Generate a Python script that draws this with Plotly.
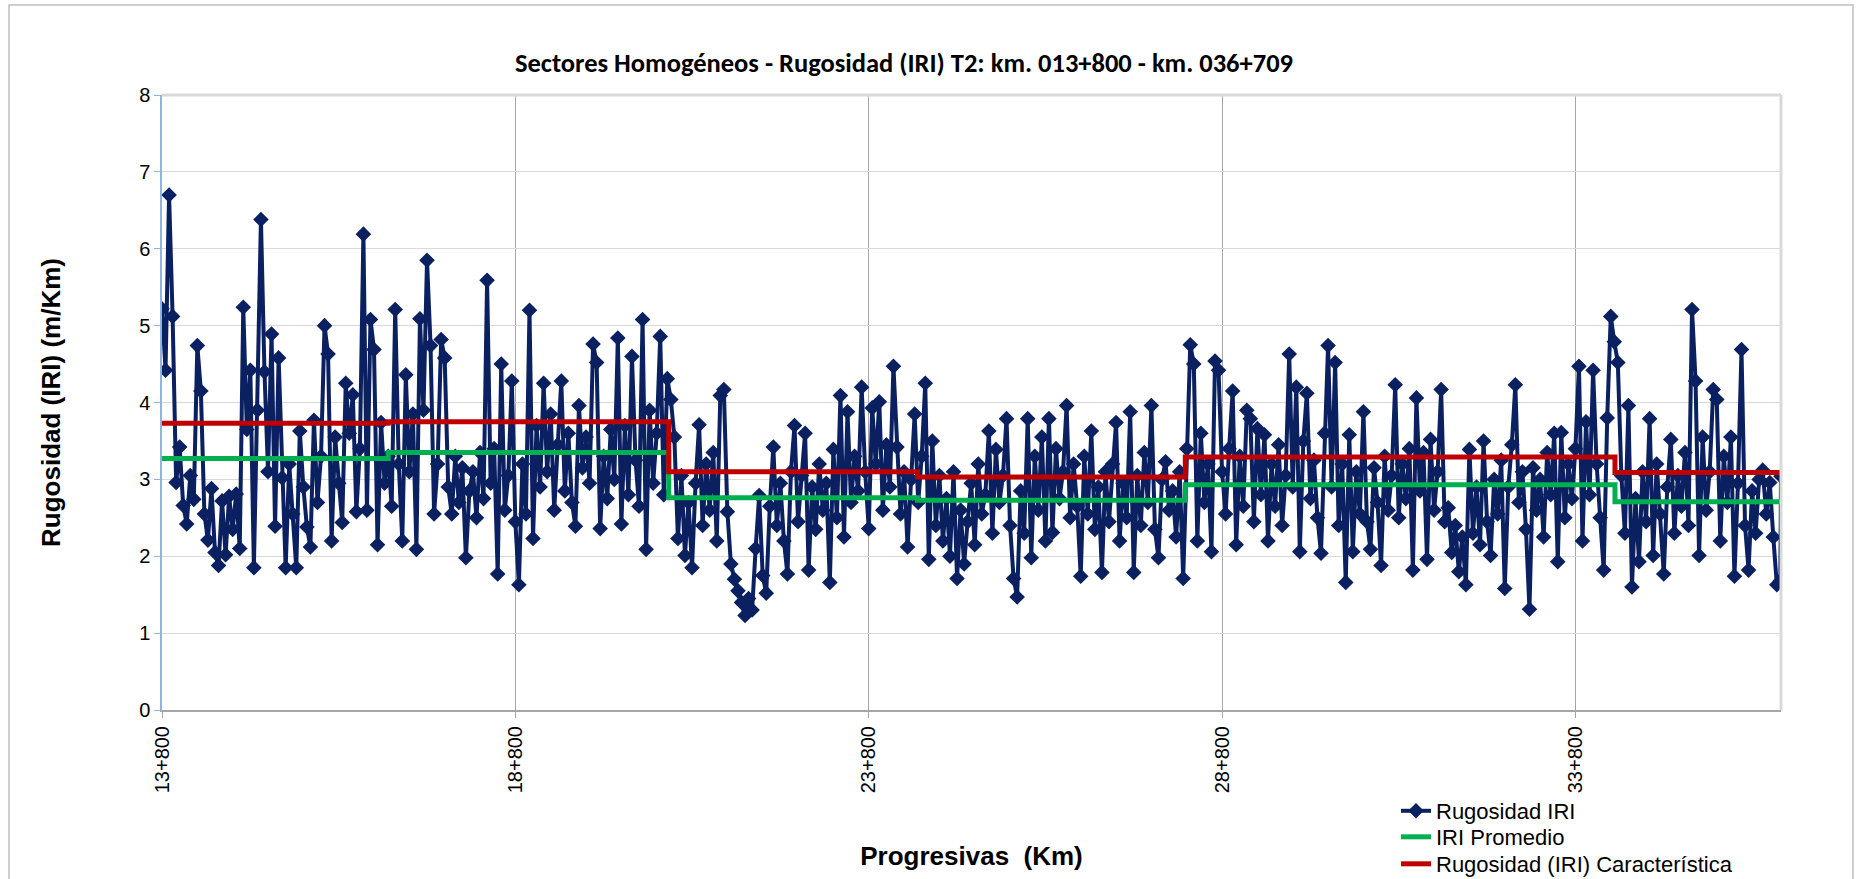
import plotly.graph_objects as go

# ---------------- DATA ----------------
# Station grid of the survey (km): readings every 50 m from 13+800, last reading at 36+709
station_start_km = 13.80
station_step_km = 0.05
station_end_km = 36.709

# IRI readings (m/km), one list per km of the road (20 readings each, 50 m apart)
iri_km13 = [5.22, 4.42, 6.70, 5.12, 2.96, 3.42, 2.66, 2.42, 3.05, 2.74, 4.74, 4.15, 2.55, 2.21, 2.88, 2.05, 1.88, 2.72, 2.02, 2.78]
iri_km14 = [2.35, 2.81, 2.10, 5.24, 3.65, 4.42, 1.85, 3.90, 6.38, 4.40, 3.10, 4.89, 2.39, 4.58, 3.02, 1.85, 3.20, 2.55, 1.85, 3.63]
iri_km15 = [2.90, 2.38, 2.12, 3.77, 2.70, 3.30, 5.00, 4.63, 2.20, 3.55, 2.95, 2.44, 4.25, 3.60, 4.10, 2.58, 3.40, 6.19, 2.60, 5.08]
iri_km16 = [4.69, 2.15, 3.74, 2.95, 3.30, 2.65, 5.21, 3.20, 2.20, 4.36, 3.10, 3.85, 2.09, 5.09, 3.90, 5.85, 4.74, 2.55, 3.20, 4.82]
iri_km17 = [4.58, 2.90, 2.55, 3.30, 2.70, 3.15, 1.98, 2.85, 3.10, 2.50, 3.35, 2.75, 5.59, 2.95, 3.40, 1.77, 4.50, 2.60, 3.05, 4.28]
iri_km18 = [2.45, 1.63, 3.20, 2.55, 5.20, 2.23, 3.70, 2.90, 4.25, 3.10, 3.85, 2.60, 3.45, 4.28, 2.85, 3.60, 2.70, 2.39, 3.96, 3.15]
iri_km19 = [3.55, 2.95, 4.76, 4.52, 2.36, 3.30, 2.75, 3.65, 3.00, 4.84, 2.42, 3.70, 2.80, 4.60, 3.25, 2.65, 5.08, 2.09, 3.90, 2.95]
iri_km20 = [3.60, 4.86, 2.80, 4.31, 4.04, 3.55, 2.23, 3.05, 2.01, 2.70, 1.85, 2.95, 3.71, 2.40, 3.20, 2.60, 3.35, 2.20, 4.09, 4.17]
iri_km21 = [2.58, 1.90, 1.70, 1.55, 1.40, 1.23, 1.45, 1.30, 2.10, 2.79, 1.75, 1.52, 2.65, 3.42, 2.40, 2.95, 2.20, 1.77, 3.10, 3.70]
iri_km22 = [2.45, 3.05, 3.60, 1.82, 2.90, 2.35, 3.20, 2.60, 2.95, 1.66, 3.39, 2.50, 4.09, 2.25, 3.88, 2.70, 3.30, 2.85, 4.20, 3.10]
iri_km23 = [2.36, 3.93, 3.20, 4.01, 2.60, 3.45, 2.90, 4.47, 3.42, 2.55, 3.10, 2.12, 3.00, 3.85, 2.70, 3.30, 4.25, 1.96, 3.50, 2.40]
iri_km24 = [3.05, 2.20, 2.75, 2.00, 3.10, 1.71, 2.60, 1.90, 2.45, 2.95, 2.15, 3.20, 2.55, 2.80, 3.63, 2.30, 3.39, 2.70, 3.05, 3.79]
iri_km25 = [2.40, 1.71, 1.47, 2.85, 2.30, 3.79, 1.98, 3.30, 2.60, 3.55, 2.20, 3.79, 2.31, 3.40, 2.75, 3.10, 3.96, 2.50, 3.20, 2.65]
iri_km26 = [1.74, 3.30, 2.55, 3.63, 2.35, 2.90, 1.79, 3.10, 2.45, 3.20, 3.74, 2.20, 2.95, 2.50, 3.88, 1.79, 3.05, 2.40, 3.35, 2.70]
iri_km27 = [3.96, 2.35, 1.98, 3.00, 3.23, 2.60, 2.85, 2.25, 3.10, 1.71, 3.40, 4.75, 4.50, 2.20, 3.60, 2.70, 3.20, 2.06, 4.54, 4.42]
iri_km28 = [3.10, 2.55, 3.40, 4.15, 2.15, 3.30, 2.65, 3.90, 3.79, 2.45, 3.66, 2.80, 3.58, 2.20, 3.20, 2.65, 3.45, 2.40, 3.05, 4.63]
iri_km29 = [2.90, 4.20, 2.06, 3.50, 4.12, 2.75, 3.25, 2.50, 2.04, 3.60, 4.74, 2.90, 4.52, 2.40, 3.20, 1.66, 3.58, 2.06, 3.10, 2.55]
iri_km30 = [3.88, 2.45, 2.09, 3.15, 2.70, 1.88, 3.30, 2.60, 3.05, 4.23, 2.50, 3.20, 2.75, 3.40, 1.82, 4.06, 2.85, 3.35, 1.96, 3.52]
iri_km31 = [2.60, 3.10, 4.17, 2.45, 2.63, 2.05, 2.40, 1.80, 2.25, 1.63, 3.39, 2.30, 2.90, 2.15, 3.50, 2.45, 2.01, 3.00, 2.55, 3.25]
iri_km32 = [1.58, 2.90, 3.45, 4.23, 2.70, 3.10, 2.35, 1.31, 3.15, 2.60, 3.00, 2.25, 3.35, 2.80, 3.60, 1.93, 3.61, 2.50, 3.20, 2.75]
iri_km33 = [3.40, 4.47, 2.20, 3.75, 2.80, 4.42, 3.20, 2.50, 1.82, 3.80, 5.12, 4.79, 4.52, 3.05, 2.30, 3.96, 1.60, 2.75, 1.93, 3.10]
iri_km34 = [2.45, 3.79, 2.01, 3.20, 2.55, 1.77, 2.90, 3.52, 2.30, 3.05, 2.65, 3.35, 2.40, 5.21, 4.28, 2.01, 3.55, 2.60, 3.10, 4.17]
# last km: 19 readings 35+800 ... 36+700, then the final reading at 36+709
iri_km35 = [4.04, 2.20, 3.30, 2.70, 3.55, 1.74, 2.95, 4.69, 2.40, 1.82, 2.85, 2.30, 3.00, 3.12, 2.55, 2.96, 2.25, 1.63, 1.68]
iri_end = [3.04]

# Homogeneous sectors (km boundaries) and their levels
sector_bounds_km = [13.80, 17.00, 20.97, 24.49, 28.28, 34.36, 36.709]
iri_promedio = [3.27, 3.35, 2.76, 2.73, 2.93, 2.71]
iri_caracteristica = [3.73, 3.75, 3.10, 3.03, 3.29, 3.09]

# Axis ticks
x_tickvals = [13.8, 18.8, 23.8, 28.8, 33.8]
x_ticktext = ["13+800", "18+800", "23+800", "28+800", "33+800"]

# ---------------- BUILD ----------------
iri_values = (iri_km13 + iri_km14 + iri_km15 + iri_km16 + iri_km17 + iri_km18 + iri_km19
              + iri_km20 + iri_km21 + iri_km22 + iri_km23 + iri_km24 + iri_km25 + iri_km26
              + iri_km27 + iri_km28 + iri_km29 + iri_km30 + iri_km31 + iri_km32 + iri_km33
              + iri_km34 + iri_km35)
stations = [round(station_start_km + station_step_km * i, 3) for i in range(len(iri_values))]
stations.append(station_end_km)
iri_values = iri_values + iri_end

step_x = sector_bounds_km
prom_y = iri_promedio + [iri_promedio[-1]]
car_y = iri_caracteristica + [iri_caracteristica[-1]]

NAVY = "#0a2060"
GREEN = "#00b050"
RED = "#c00000"

fig = go.Figure()
fig.add_trace(go.Scatter(
    x=stations, y=iri_values, mode="lines+markers", name="Rugosidad IRI",
    line=dict(color=NAVY, width=4),
    marker=dict(symbol="diamond", size=12, color=NAVY),
    legend="legend",
))
fig.add_trace(go.Scatter(
    x=step_x, y=prom_y, mode="lines", name="IRI Promedio",
    line=dict(color=GREEN, width=5, shape="hv"),
    legend="legend2",
))
fig.add_trace(go.Scatter(
    x=step_x, y=car_y, mode="lines", name="Rugosidad (IRI) Característica",
    line=dict(color=RED, width=5, shape="hv"),
    legend="legend3",
))

W, H = 1856, 879
L, R, T, B = 162, 75, 95, 169
pw, ph = W - L - R, H - T - B


def px(x):
    return (x - L) / pw


def py(y):
    return (H - B - y) / ph


legend_common = dict(xanchor="left", yanchor="middle", font=dict(size=22),
                     bgcolor="rgba(0,0,0,0)", itemwidth=30)
LEG_X = 1396

fig.update_layout(
    width=W, height=H,
    margin=dict(l=L, r=R, t=T, b=B, autoexpand=False),
    paper_bgcolor="white", plot_bgcolor="white",
    font=dict(family="Arial, 'Liberation Sans', sans-serif", color="#000000", size=20),
    title=dict(
        text="<b>Sectores Homogéneos - Rugosidad (IRI) T2: km. 013+800 - km. 036+709</b>",
        font=dict(family="Carlito, 'Liberation Sans Narrow', 'Arial Narrow', sans-serif", size=26.5, color="#000"),
        x=904 / W, xanchor="center", y=1 - 63 / H, yanchor="middle",
    ),
    xaxis=dict(
        range=[station_start_km, station_end_km],
        tickmode="array", tickvals=x_tickvals, ticktext=x_ticktext,
        tickangle=-90, tickfont=dict(size=20),
        ticks="outside", ticklen=6, tickcolor="#a6a6a6", tickwidth=1,
        showgrid=True, gridcolor="#a6a6a6", gridwidth=1,
        showline=True, linecolor="#a6a6a6", linewidth=2,
        zeroline=False, automargin=False,
        title=dict(text="<b>Progresivas  (Km)</b>", font=dict(size=26), standoff=55),
    ),
    yaxis=dict(
        range=[0, 8], dtick=1, tick0=0,
        tickfont=dict(size=20),
        ticks="outside", ticklen=6, tickcolor="#8eb4e3", tickwidth=1,
        showgrid=True, gridcolor="#d9d9d9", gridwidth=1,
        showline=True, linecolor="#8eb4e3", linewidth=1.5,
        zeroline=False, automargin=False,
        title=dict(text="<b>Rugosidad (IRI) (m/Km)</b>", font=dict(size=26), standoff=71),
    ),
    legend=dict(x=px(LEG_X), y=py(811), **legend_common),
    legend2=dict(x=px(LEG_X), y=py(837), **legend_common),
    legend3=dict(x=px(LEG_X), y=py(864), **legend_common),
    showlegend=True,
)

# plot-area frame (top and right) in light grey
fig.add_shape(type="line", xref="paper", yref="paper", x0=0, x1=1, y0=1, y1=1,
              line=dict(color="#d9d9d9", width=3), layer="above")
fig.add_shape(type="line", xref="paper", yref="paper", x0=1, x1=1, y0=0, y1=1,
              line=dict(color="#d9d9d9", width=3), layer="above")
# outer chart border
fig.add_shape(type="rect", xref="paper", yref="paper",
              x0=px(9), x1=px(1853), y0=py(890), y1=py(5),
              line=dict(color="#bfbfbf", width=1.5), fillcolor="rgba(0,0,0,0)", layer="below")

fig.write_html("out.html", config={"displayModeBar": False},
               post_script="document.body.style.margin='0';")
